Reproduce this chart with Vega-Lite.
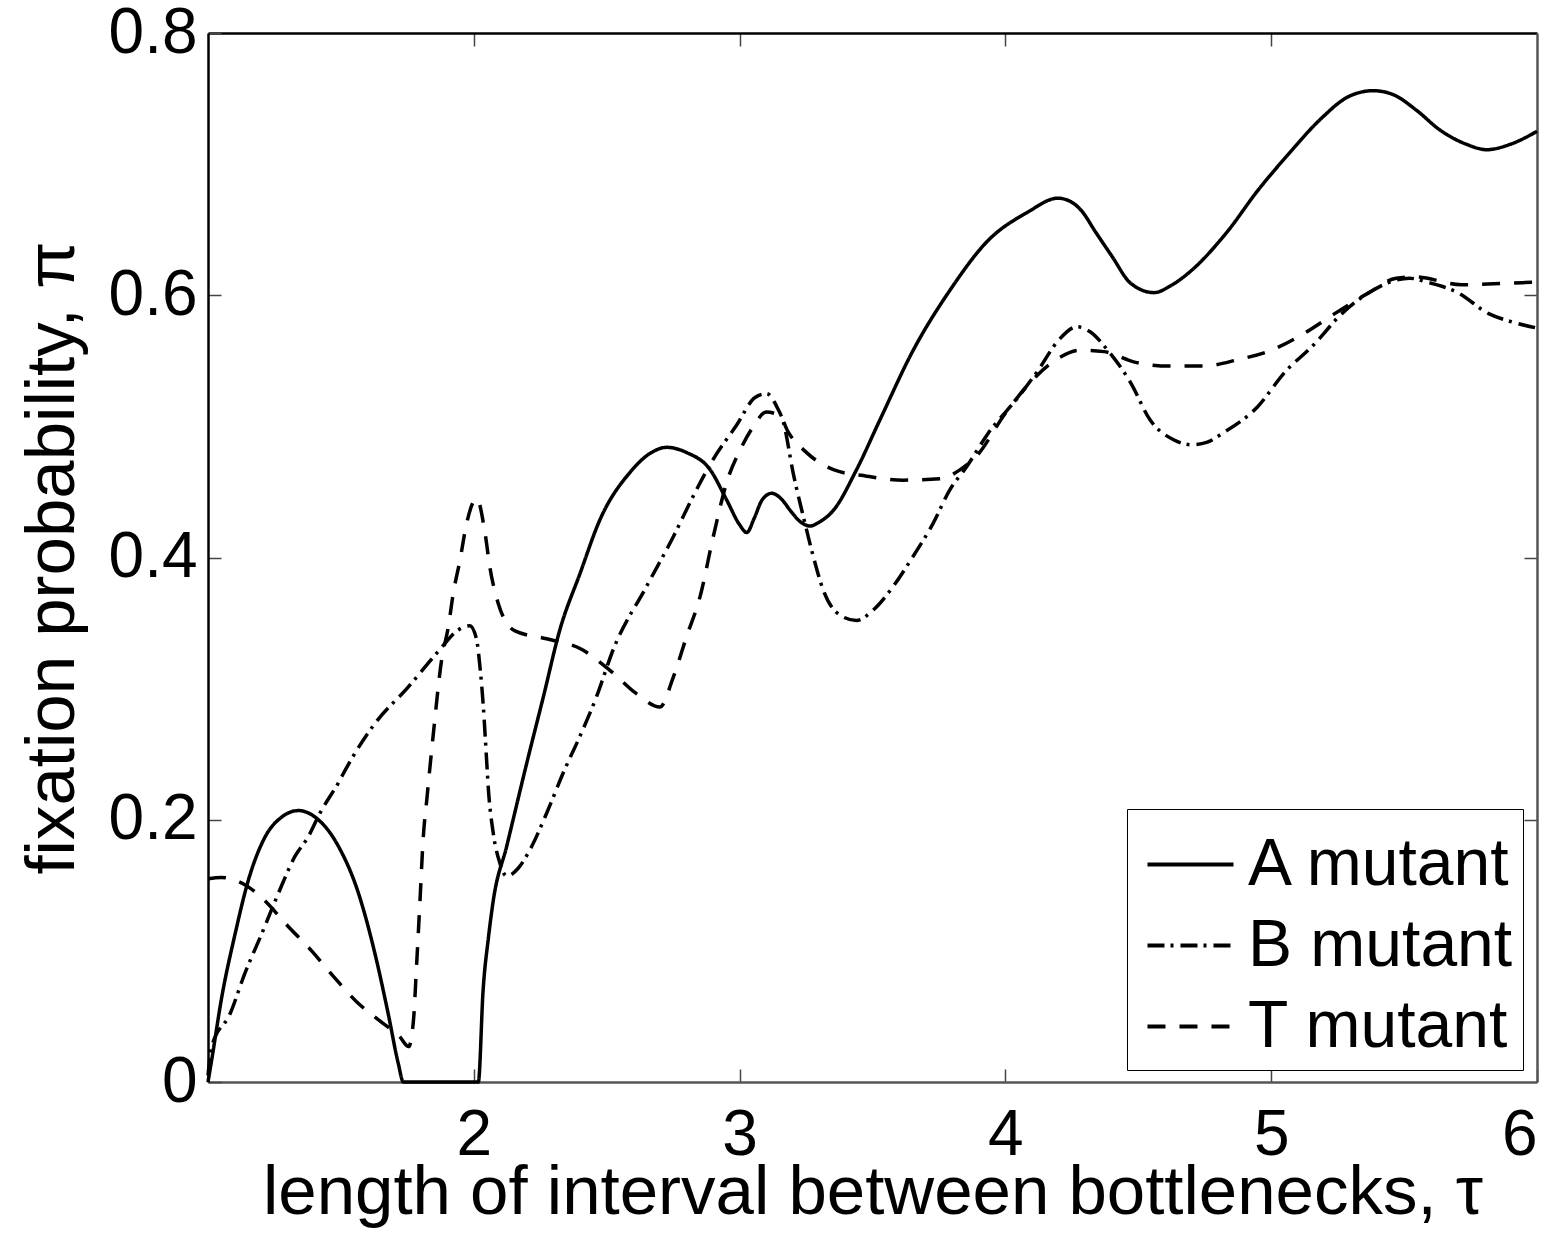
{
  "$schema": "https://vega.github.io/schema/vega-lite/v6.json",
  "width": 1329,
  "height": 1049,
  "autosize": {"type": "none"},
  "padding": {"left": 208, "top": 33, "right": 27, "bottom": 151},
  "background": "white",
  "config": {
    "view": {"stroke": null},
    "font": "Liberation Sans",
    "axis": {
      "grid": false,
      "domainColor": "black",
      "domainWidth": 2.5,
      "tickColor": "#444",
      "tickWidth": 1.5,
      "tickSize": -13,
      "labelColor": "black",
      "titleColor": "black",
      "labelFont": "Liberation Sans",
      "titleFont": "Liberation Sans",
      "labelFontSize": 64,
      "titleFontSize": 69,
      "titleFontWeight": "normal"
    }
  },
  "data": {
    "values": [
      {"x": 1.0, "y": 0.0, "s": "A mutant"},
      {"x": 1.014, "y": 0.017, "s": "A mutant"},
      {"x": 1.052, "y": 0.065, "s": "A mutant"},
      {"x": 1.102, "y": 0.113, "s": "A mutant"},
      {"x": 1.152, "y": 0.154, "s": "A mutant"},
      {"x": 1.215, "y": 0.187, "s": "A mutant"},
      {"x": 1.277, "y": 0.202, "s": "A mutant"},
      {"x": 1.34, "y": 0.207, "s": "A mutant"},
      {"x": 1.403, "y": 0.202, "s": "A mutant"},
      {"x": 1.49, "y": 0.18, "s": "A mutant"},
      {"x": 1.566, "y": 0.144, "s": "A mutant"},
      {"x": 1.628, "y": 0.098, "s": "A mutant"},
      {"x": 1.678, "y": 0.052, "s": "A mutant"},
      {"x": 1.716, "y": 0.014, "s": "A mutant"},
      {"x": 1.735, "y": 0.0, "s": "A mutant"},
      {"x": 2.017, "y": 0.0, "s": "A mutant"},
      {"x": 2.035, "y": 0.07, "s": "A mutant"},
      {"x": 2.055, "y": 0.11, "s": "A mutant"},
      {"x": 2.073, "y": 0.138, "s": "A mutant"},
      {"x": 2.124, "y": 0.18, "s": "A mutant"},
      {"x": 2.199, "y": 0.243, "s": "A mutant"},
      {"x": 2.262, "y": 0.294, "s": "A mutant"},
      {"x": 2.324, "y": 0.345, "s": "A mutant"},
      {"x": 2.4, "y": 0.388, "s": "A mutant"},
      {"x": 2.475, "y": 0.429, "s": "A mutant"},
      {"x": 2.588, "y": 0.465, "s": "A mutant"},
      {"x": 2.66, "y": 0.479, "s": "A mutant"},
      {"x": 2.726, "y": 0.484, "s": "A mutant"},
      {"x": 2.801, "y": 0.48, "s": "A mutant"},
      {"x": 2.889, "y": 0.467, "s": "A mutant"},
      {"x": 2.951, "y": 0.444, "s": "A mutant"},
      {"x": 3.0, "y": 0.425, "s": "A mutant"},
      {"x": 3.027, "y": 0.419, "s": "A mutant"},
      {"x": 3.055, "y": 0.43, "s": "A mutant"},
      {"x": 3.085, "y": 0.444, "s": "A mutant"},
      {"x": 3.121, "y": 0.449, "s": "A mutant"},
      {"x": 3.16, "y": 0.444, "s": "A mutant"},
      {"x": 3.19, "y": 0.436, "s": "A mutant"},
      {"x": 3.23, "y": 0.427, "s": "A mutant"},
      {"x": 3.265, "y": 0.424, "s": "A mutant"},
      {"x": 3.3, "y": 0.427, "s": "A mutant"},
      {"x": 3.353, "y": 0.436, "s": "A mutant"},
      {"x": 3.44, "y": 0.467, "s": "A mutant"},
      {"x": 3.528, "y": 0.505, "s": "A mutant"},
      {"x": 3.653, "y": 0.558, "s": "A mutant"},
      {"x": 3.792, "y": 0.604, "s": "A mutant"},
      {"x": 3.936, "y": 0.642, "s": "A mutant"},
      {"x": 4.081, "y": 0.663, "s": "A mutant"},
      {"x": 4.197, "y": 0.674, "s": "A mutant"},
      {"x": 4.24, "y": 0.672, "s": "A mutant"},
      {"x": 4.284, "y": 0.665, "s": "A mutant"},
      {"x": 4.34, "y": 0.648, "s": "A mutant"},
      {"x": 4.4, "y": 0.63, "s": "A mutant"},
      {"x": 4.472, "y": 0.609, "s": "A mutant"},
      {"x": 4.559, "y": 0.602, "s": "A mutant"},
      {"x": 4.62, "y": 0.607, "s": "A mutant"},
      {"x": 4.689, "y": 0.617, "s": "A mutant"},
      {"x": 4.833, "y": 0.648, "s": "A mutant"},
      {"x": 4.95, "y": 0.68, "s": "A mutant"},
      {"x": 5.071, "y": 0.709, "s": "A mutant"},
      {"x": 5.184, "y": 0.734, "s": "A mutant"},
      {"x": 5.296, "y": 0.752, "s": "A mutant"},
      {"x": 5.384, "y": 0.756, "s": "A mutant"},
      {"x": 5.459, "y": 0.753, "s": "A mutant"},
      {"x": 5.547, "y": 0.741, "s": "A mutant"},
      {"x": 5.635, "y": 0.726, "s": "A mutant"},
      {"x": 5.736, "y": 0.715, "s": "A mutant"},
      {"x": 5.811, "y": 0.711, "s": "A mutant"},
      {"x": 5.898, "y": 0.715, "s": "A mutant"},
      {"x": 6.0, "y": 0.725, "s": "A mutant"},

      {"x": 1.0, "y": 0.005, "s": "B mutant"},
      {"x": 1.014, "y": 0.027, "s": "B mutant"},
      {"x": 1.083, "y": 0.052, "s": "B mutant"},
      {"x": 1.139, "y": 0.083, "s": "B mutant"},
      {"x": 1.202, "y": 0.113, "s": "B mutant"},
      {"x": 1.265, "y": 0.144, "s": "B mutant"},
      {"x": 1.327, "y": 0.172, "s": "B mutant"},
      {"x": 1.377, "y": 0.187, "s": "B mutant"},
      {"x": 1.421, "y": 0.205, "s": "B mutant"},
      {"x": 1.49, "y": 0.228, "s": "B mutant"},
      {"x": 1.522, "y": 0.24, "s": "B mutant"},
      {"x": 1.634, "y": 0.275, "s": "B mutant"},
      {"x": 1.748, "y": 0.3, "s": "B mutant"},
      {"x": 1.873, "y": 0.33, "s": "B mutant"},
      {"x": 1.936, "y": 0.344, "s": "B mutant"},
      {"x": 1.985, "y": 0.348, "s": "B mutant"},
      {"x": 2.01, "y": 0.338, "s": "B mutant"},
      {"x": 2.023, "y": 0.317, "s": "B mutant"},
      {"x": 2.036, "y": 0.286, "s": "B mutant"},
      {"x": 2.046, "y": 0.253, "s": "B mutant"},
      {"x": 2.055, "y": 0.223, "s": "B mutant"},
      {"x": 2.073, "y": 0.19, "s": "B mutant"},
      {"x": 2.098, "y": 0.167, "s": "B mutant"},
      {"x": 2.124, "y": 0.157, "s": "B mutant"},
      {"x": 2.167, "y": 0.163, "s": "B mutant"},
      {"x": 2.211, "y": 0.177, "s": "B mutant"},
      {"x": 2.274, "y": 0.205, "s": "B mutant"},
      {"x": 2.337, "y": 0.236, "s": "B mutant"},
      {"x": 2.4, "y": 0.264, "s": "B mutant"},
      {"x": 2.462, "y": 0.294, "s": "B mutant"},
      {"x": 2.525, "y": 0.33, "s": "B mutant"},
      {"x": 2.65, "y": 0.378, "s": "B mutant"},
      {"x": 2.751, "y": 0.416, "s": "B mutant"},
      {"x": 2.826, "y": 0.447, "s": "B mutant"},
      {"x": 2.895, "y": 0.473, "s": "B mutant"},
      {"x": 2.989, "y": 0.501, "s": "B mutant"},
      {"x": 3.058, "y": 0.522, "s": "B mutant"},
      {"x": 3.102, "y": 0.525, "s": "B mutant"},
      {"x": 3.14, "y": 0.515, "s": "B mutant"},
      {"x": 3.165, "y": 0.503, "s": "B mutant"},
      {"x": 3.202, "y": 0.464, "s": "B mutant"},
      {"x": 3.24, "y": 0.431, "s": "B mutant"},
      {"x": 3.277, "y": 0.401, "s": "B mutant"},
      {"x": 3.315, "y": 0.375, "s": "B mutant"},
      {"x": 3.378, "y": 0.356, "s": "B mutant"},
      {"x": 3.44, "y": 0.352, "s": "B mutant"},
      {"x": 3.503, "y": 0.36, "s": "B mutant"},
      {"x": 3.578, "y": 0.378, "s": "B mutant"},
      {"x": 3.653, "y": 0.401, "s": "B mutant"},
      {"x": 3.728, "y": 0.426, "s": "B mutant"},
      {"x": 3.792, "y": 0.452, "s": "B mutant"},
      {"x": 3.85, "y": 0.468, "s": "B mutant"},
      {"x": 3.936, "y": 0.495, "s": "B mutant"},
      {"x": 4.051, "y": 0.523, "s": "B mutant"},
      {"x": 4.124, "y": 0.543, "s": "B mutant"},
      {"x": 4.197, "y": 0.565, "s": "B mutant"},
      {"x": 4.27, "y": 0.576, "s": "B mutant"},
      {"x": 4.32, "y": 0.572, "s": "B mutant"},
      {"x": 4.385, "y": 0.558, "s": "B mutant"},
      {"x": 4.472, "y": 0.533, "s": "B mutant"},
      {"x": 4.544, "y": 0.505, "s": "B mutant"},
      {"x": 4.631, "y": 0.49, "s": "B mutant"},
      {"x": 4.7, "y": 0.486, "s": "B mutant"},
      {"x": 4.76, "y": 0.488, "s": "B mutant"},
      {"x": 4.819, "y": 0.495, "s": "B mutant"},
      {"x": 4.949, "y": 0.515, "s": "B mutant"},
      {"x": 5.05, "y": 0.541, "s": "B mutant"},
      {"x": 5.159, "y": 0.562, "s": "B mutant"},
      {"x": 5.266, "y": 0.586, "s": "B mutant"},
      {"x": 5.368, "y": 0.602, "s": "B mutant"},
      {"x": 5.46, "y": 0.611, "s": "B mutant"},
      {"x": 5.52, "y": 0.613, "s": "B mutant"},
      {"x": 5.586, "y": 0.61, "s": "B mutant"},
      {"x": 5.702, "y": 0.602, "s": "B mutant"},
      {"x": 5.818, "y": 0.586, "s": "B mutant"},
      {"x": 5.9, "y": 0.58, "s": "B mutant"},
      {"x": 6.0, "y": 0.575, "s": "B mutant"},

      {"x": 1.0, "y": 0.155, "s": "T mutant"},
      {"x": 1.05, "y": 0.156, "s": "T mutant"},
      {"x": 1.1, "y": 0.154, "s": "T mutant"},
      {"x": 1.15, "y": 0.149, "s": "T mutant"},
      {"x": 1.21, "y": 0.139, "s": "T mutant"},
      {"x": 1.3, "y": 0.119, "s": "T mutant"},
      {"x": 1.39, "y": 0.1, "s": "T mutant"},
      {"x": 1.47, "y": 0.081, "s": "T mutant"},
      {"x": 1.56, "y": 0.061, "s": "T mutant"},
      {"x": 1.65, "y": 0.046, "s": "T mutant"},
      {"x": 1.72, "y": 0.035, "s": "T mutant"},
      {"x": 1.755, "y": 0.027, "s": "T mutant"},
      {"x": 1.773, "y": 0.047, "s": "T mutant"},
      {"x": 1.785, "y": 0.09, "s": "T mutant"},
      {"x": 1.797, "y": 0.136, "s": "T mutant"},
      {"x": 1.81, "y": 0.187, "s": "T mutant"},
      {"x": 1.823, "y": 0.215, "s": "T mutant"},
      {"x": 1.848, "y": 0.266, "s": "T mutant"},
      {"x": 1.879, "y": 0.322, "s": "T mutant"},
      {"x": 1.904, "y": 0.347, "s": "T mutant"},
      {"x": 1.923, "y": 0.373, "s": "T mutant"},
      {"x": 1.948, "y": 0.398, "s": "T mutant"},
      {"x": 1.973, "y": 0.426, "s": "T mutant"},
      {"x": 2.011, "y": 0.445, "s": "T mutant"},
      {"x": 2.042, "y": 0.419, "s": "T mutant"},
      {"x": 2.061, "y": 0.392, "s": "T mutant"},
      {"x": 2.092, "y": 0.365, "s": "T mutant"},
      {"x": 2.155, "y": 0.344, "s": "T mutant"},
      {"x": 2.274, "y": 0.338, "s": "T mutant"},
      {"x": 2.405, "y": 0.33, "s": "T mutant"},
      {"x": 2.512, "y": 0.314, "s": "T mutant"},
      {"x": 2.613, "y": 0.296, "s": "T mutant"},
      {"x": 2.7, "y": 0.286, "s": "T mutant"},
      {"x": 2.751, "y": 0.309, "s": "T mutant"},
      {"x": 2.801, "y": 0.34, "s": "T mutant"},
      {"x": 2.851, "y": 0.37, "s": "T mutant"},
      {"x": 2.901, "y": 0.416, "s": "T mutant"},
      {"x": 2.951, "y": 0.457, "s": "T mutant"},
      {"x": 3.002, "y": 0.482, "s": "T mutant"},
      {"x": 3.052, "y": 0.5, "s": "T mutant"},
      {"x": 3.1, "y": 0.511, "s": "T mutant"},
      {"x": 3.152, "y": 0.508, "s": "T mutant"},
      {"x": 3.182, "y": 0.496, "s": "T mutant"},
      {"x": 3.252, "y": 0.48, "s": "T mutant"},
      {"x": 3.353, "y": 0.467, "s": "T mutant"},
      {"x": 3.478, "y": 0.462, "s": "T mutant"},
      {"x": 3.616, "y": 0.459, "s": "T mutant"},
      {"x": 3.754, "y": 0.46, "s": "T mutant"},
      {"x": 3.83, "y": 0.467, "s": "T mutant"},
      {"x": 3.89, "y": 0.477, "s": "T mutant"},
      {"x": 4.0, "y": 0.51, "s": "T mutant"},
      {"x": 4.1, "y": 0.535, "s": "T mutant"},
      {"x": 4.2, "y": 0.552, "s": "T mutant"},
      {"x": 4.28, "y": 0.558, "s": "T mutant"},
      {"x": 4.37, "y": 0.557, "s": "T mutant"},
      {"x": 4.486, "y": 0.549, "s": "T mutant"},
      {"x": 4.616, "y": 0.546, "s": "T mutant"},
      {"x": 4.747, "y": 0.546, "s": "T mutant"},
      {"x": 4.877, "y": 0.551, "s": "T mutant"},
      {"x": 4.999, "y": 0.558, "s": "T mutant"},
      {"x": 5.116, "y": 0.57, "s": "T mutant"},
      {"x": 5.239, "y": 0.586, "s": "T mutant"},
      {"x": 5.368, "y": 0.602, "s": "T mutant"},
      {"x": 5.47, "y": 0.613, "s": "T mutant"},
      {"x": 5.541, "y": 0.614, "s": "T mutant"},
      {"x": 5.716, "y": 0.608, "s": "T mutant"},
      {"x": 5.861, "y": 0.609, "s": "T mutant"},
      {"x": 6.0, "y": 0.61, "s": "T mutant"}
    ]
  },
  "layer": [
    {
      "mark": {"type": "line", "interpolate": "monotone", "color": "black", "strokeWidth": 3.5},
      "encoding": {
        "x": {
          "field": "x", "type": "quantitative",
          "scale": {"domain": [1, 6], "nice": false, "zero": false},
          "axis": {"orient": "bottom", "values": [2, 3, 4, 5, 6], "format": "d", "labelPadding": 34, "titlePadding": -9,
                   "domainColor": "#555", "title": "length of interval between bottlenecks, τ"}
        },
        "y": {
          "field": "y", "type": "quantitative",
          "scale": {"domain": [0, 0.8], "nice": false},
          "axis": {"orient": "left", "values": [0, 0.2, 0.4, 0.6, 0.8], "format": "~g", "labelPadding": 24, "titlePadding": 21,
                   "title": "fixation probability, π"}
        },
        "strokeDash": {
          "field": "s", "type": "nominal",
          "scale": {"domain": ["A mutant", "B mutant", "T mutant"], "range": [[1, 0], [17, 6, 3, 7], [18, 14]]},
          "legend": {
            "orient": "none", "legendX": 919, "legendY": 776, "title": null,
            "padding": 10, "strokeColor": "black", "fillColor": "white",
            "labelFontSize": 66, "labelFont": "Liberation Sans", "labelColor": "black", "labelLimit": 600,
            "rowPadding": 2, "symbolType": "stroke", "symbolSize": 7400, "symbolOffset": 8,
            "symbolStrokeWidth": 4, "symbolStrokeColor": "black", "labelOffset": 12
          }
        }
      }
    },
    {
      "mark": {"type": "line", "opacity": 0},
      "encoding": {
        "x": {"field": "x", "type": "quantitative",
              "axis": {"orient": "top", "values": [2, 3, 4, 5], "labels": false, "title": null}},
        "y": {"field": "y", "type": "quantitative",
              "axis": {"orient": "right", "values": [0.2, 0.4, 0.6], "labels": false, "title": null, "domainColor": "#555"}},
        "detail": {"field": "s"}
      }
    }
  ],
  "resolve": {"axis": {"x": "independent", "y": "independent"}}
}
